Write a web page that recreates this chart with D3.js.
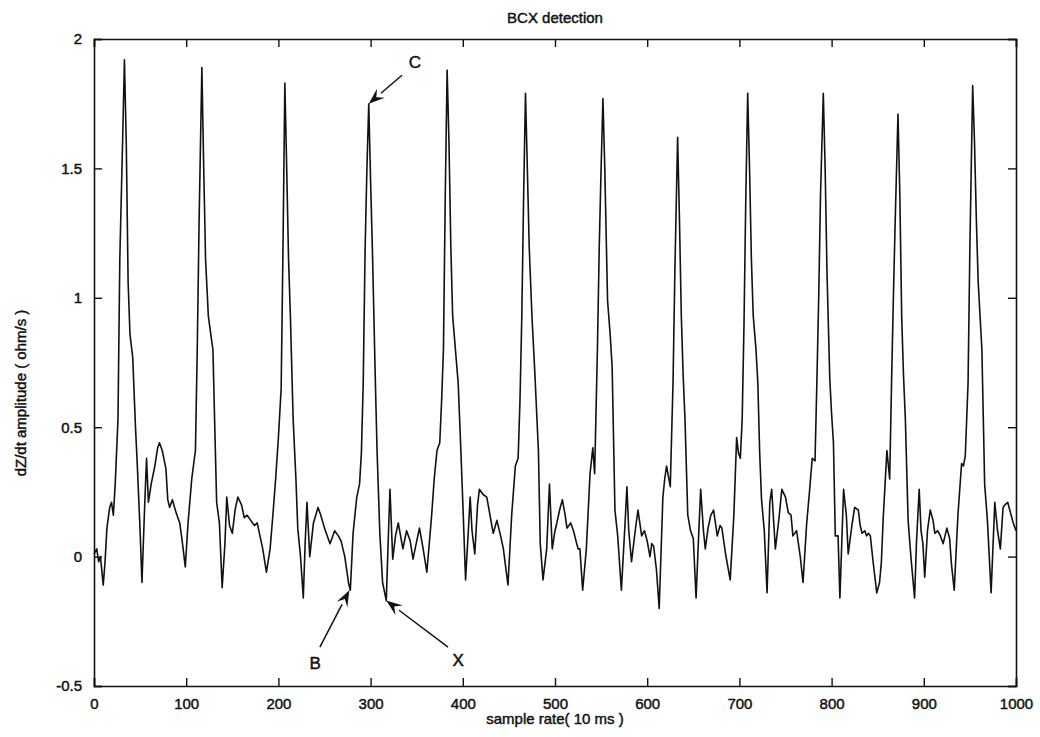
<!DOCTYPE html>
<html>
<head>
<meta charset="utf-8">
<script src="https://cdn.jsdelivr.net/npm/d3@7"></script>
<style>
  body { margin: 0; background: #fff; }
  svg { font-family: 'Liberation Sans', Arial, sans-serif; }
  text { fill: #111; stroke: #111; stroke-width: 0.45px; }
  .tick text { font-size: 15px; }
  .tick line, .domain { stroke: #111; }
</style>
</head>
<body>
<svg width="1040" height="737"></svg>
<script>
// samples (10 ms each) and dZ/dt amplitude
const samples = [0,3,5,7,10,12,14,17,19,21,23,26,28,31,33,35,37,39,42,45,47,50,52,55,57,59,62,66,69,71,74,78,80,82,85,89,93,96,99,
  102,106,110,112,114,117,119,121,124,127,129,131,133,136,139,142,144,147,150,153,156,160,163,166,170,174,177,180,183,187,191,194,197,
  200,203,205,207,209,211,213,216,219,221,224,227,229,231,234,238,243,246,250,253,256,261,265,268,272,276,278,281,285,288,290,292,294,296,298,
  300,302,305,307,310,313,317,319,321,324,327,330,335,339,343,346,350,353,357,361,366,369,372,375,377,379,381,383,385,387,389,392,395,398,
  400,403,406,408,410,413,416,418,422,426,430,433,437,441,444,449,453,457,460,462,464,466,468,470,472,475,478,482,484,487,491,494,497,
  500,502,505,508,511,513,517,520,525,527,530,534,538,541,543,546,548,550,552,554,557,560,562,565,568,572,576,578,580,583,587,590,594,597,
  600,603,605,607,610,613,617,619,621,625,628,630,633,635,637,639,641,644,647,650,653,656,658,661,663,666,669,672,676,679,681,685,690,694,697,699,
  701,703,705,707,709,711,713,715,718,720,722,724,727,730,733,735,739,743,746,750,753,756,758,762,766,769,773,776,779,782,784,786,788,791,793,795,798,
  800,802,804,807,809,811,813,816,818,822,825,829,831,833,836,838,840,842,845,849,852,854,856,858,860,863,865,867,869,872,874,876,878,880,883,886,890,892,895,897,899,
  901,904,907,910,912,915,918,921,925,928,930,933,937,941,943,945,948,950,953,955,957,959,963,966,969,973,977,980,983,986,988,991,994,997,1000];

const dzdt = [0.01,0.03,-0.02,0.0,-0.11,-0.02,0.11,0.19,0.21,0.16,0.28,0.53,1.15,1.6,1.92,1.6,1.06,0.86,0.77,0.5,0.35,0.1,-0.10,0.2,0.38,0.21,0.28,0.35,0.42,0.44,0.41,0.34,0.22,0.19,0.22,0.17,0.13,0.05,-0.04,
  0.13,0.3,0.41,0.8,1.3,1.89,1.5,1.15,0.93,0.85,0.80,0.5,0.21,0.13,-0.12,0.05,0.23,0.12,0.09,0.18,0.23,0.2,0.15,0.16,0.14,0.12,0.13,0.08,0.03,-0.06,0.03,0.16,0.3,
  0.46,0.65,1.2,1.83,1.5,1.15,0.93,0.53,0.3,0.11,0.0,-0.16,0.05,0.21,0.0,0.13,0.19,0.16,0.11,0.08,0.05,0.10,0.08,0.06,0.0,-0.10,-0.13,0.09,0.23,0.28,0.4,0.67,1.18,1.5,1.75,
  1.45,1.18,0.7,0.41,0.09,-0.1,-0.17,0.05,0.26,-0.01,0.08,0.13,0.03,0.1,0.06,-0.01,0.06,0.11,0.03,-0.06,0.15,0.3,0.41,0.44,0.6,0.80,1.4,1.88,1.6,1.2,0.93,0.8,0.67,0.4,
  0.21,-0.09,0.1,0.23,0.1,0.01,0.2,0.26,0.24,0.23,0.15,0.09,0.14,0.08,0.03,-0.11,0.16,0.35,0.38,0.6,0.93,1.4,1.79,1.5,1.2,0.93,0.72,0.41,0.05,-0.09,0.03,0.28,0.03,
  0.1,0.13,0.18,0.22,0.16,0.11,0.13,0.10,0.03,0.03,-0.13,0.03,0.32,0.42,0.32,0.80,1.2,1.5,1.77,1.5,0.99,0.85,0.73,0.18,0.08,-0.13,0.13,0.27,0.1,-0.02,0.1,0.18,0.08,0.1,
  0.06,0.0,0.05,0.04,-0.05,-0.2,0.23,0.3,0.35,0.27,0.67,1.1,1.62,1.3,0.93,0.7,0.53,0.16,0.1,0.07,-0.16,0.1,0.26,0.1,0.03,0.11,0.16,0.18,0.08,0.12,0.11,0.01,-0.09,0.16,0.46,0.4,
  0.38,0.53,0.9,1.4,1.79,1.5,1.15,0.93,0.8,0.67,0.4,0.22,0.1,-0.14,0.21,0.26,0.03,0.15,0.26,0.23,0.17,0.16,0.08,0.10,0.0,-0.10,0.13,0.25,0.38,0.37,0.67,1.0,1.4,1.79,1.5,1.1,0.69,
  0.55,0.44,0.08,0.08,-0.16,0.05,0.26,0.16,0.01,0.12,0.19,0.18,0.12,0.09,0.1,0.08,0.09,0.08,-0.02,-0.14,-0.1,-0.02,0.15,0.28,0.41,0.30,0.67,1.0,1.3,1.71,1.4,0.93,0.7,0.53,0.14,0.0,-0.16,0.05,0.26,0.1,0.05,
  -0.08,0.1,0.18,0.14,0.09,0.1,0.08,0.05,0.11,0.07,-0.03,-0.13,0.16,0.36,0.35,0.39,0.67,1.2,1.82,1.6,1.3,1.06,0.80,0.28,0.14,-0.14,0.21,0.1,0.03,0.19,0.2,0.21,0.17,0.13,0.10];

const xTicks = [0,100,200,300,400,500,600,700,800,900,1000];
const yTicks = [-0.5,0,0.5,1,1.5,2];

// annotated points: label, tip [sample, value], label [sample, value], tail [sample, value]
const marks = ['B','C','X'];
const markTip = [[277,-0.13],[298,1.75],[317,-0.17]];
const markLabel = [[240,-0.41],[348,1.91],[395,-0.40]];
const markTail = [[245,-0.35],[334,1.86],[384,-0.35]];

const svg = d3.select('svg');
const width = +svg.attr('width');
const height = +svg.attr('height');
const margin = {top: 39, right: 24, bottom: 51, left: 94};
const innerWidth = width - margin.left - margin.right;
const innerHeight = height - margin.top - margin.bottom;

const xScale = d3.scaleLinear().domain([0, 1000]).range([0, innerWidth]);
const yScale = d3.scaleLinear().domain([-0.5, 2]).range([innerHeight, 0]);

const g = svg.append('g')
  .attr('transform', `translate(${margin.left},${margin.top})`);

// box with inward ticks on all sides (matlab style)
const xAxisB = g.append('g').attr('transform', `translate(0,${innerHeight})`)
  .call(d3.axisBottom(xScale).tickValues(xTicks).tickSize(-8).tickPadding(12).tickFormat(d3.format('d')));
const xAxisT = g.append('g')
  .call(d3.axisTop(xScale).tickValues(xTicks).tickSize(-8));
const yAxisL = g.append('g')
  .call(d3.axisLeft(yScale).tickValues(yTicks).tickSize(-8).tickPadding(12).tickFormat(d => d));
const yAxisR = g.append('g').attr('transform', `translate(${innerWidth},0)`)
  .call(d3.axisRight(yScale).tickValues(yTicks).tickSize(-8));

// top and right edges carry ticks only
xAxisT.selectAll('.tick text').remove();
yAxisR.selectAll('.tick text').remove();

[xAxisB, xAxisT, yAxisL, yAxisR].forEach(a => {
  a.attr('font-size', 15);
  a.select('.domain').attr('stroke-width', 1.6);
  a.selectAll('.tick line').attr('stroke-width', 1.4);
});

const line = d3.line()
  .x((d, i) => xScale(samples[i]))
  .y(d => yScale(d));

g.append('path')
  .datum(dzdt)
  .attr('fill', 'none')
  .attr('stroke', '#111')
  .attr('stroke-width', 1.6)
  .attr('stroke-linejoin', 'round')
  .attr('d', line);

// arrows
marks.forEach((m, i) => {
  const tx = xScale(markTip[i][0]), ty = yScale(markTip[i][1]);
  const sx = xScale(markTail[i][0]), sy = yScale(markTail[i][1]);
  const ang = Math.atan2(ty - sy, tx - sx);
  const len = 16, wid = 6;
  const bx = tx - len * Math.cos(ang), by = ty - len * Math.sin(ang);
  g.append('line')
    .attr('x1', sx).attr('y1', sy).attr('x2', bx).attr('y2', by)
    .attr('stroke', '#111').attr('stroke-width', 1.5);
  g.append('path')
    .attr('d', `M${tx},${ty}L${bx - wid * Math.sin(ang)},${by + wid * Math.cos(ang)}L${tx - 10 * Math.cos(ang)},${ty - 10 * Math.sin(ang)}L${bx + wid * Math.sin(ang)},${by - wid * Math.cos(ang)}Z`)
    .attr('fill', '#111');
  g.append('text')
    .attr('x', xScale(markLabel[i][0]))
    .attr('y', yScale(markLabel[i][1]) + 6)
    .attr('text-anchor', 'middle')
    .attr('font-size', 17)
    .text(m);
});

svg.append('text')
  .attr('x', margin.left + innerWidth / 2)
  .attr('y', 23)
  .attr('text-anchor', 'middle')
  .attr('font-size', 15)
  .text('BCX detection');

svg.append('text')
  .attr('x', margin.left + innerWidth / 2)
  .attr('y', 724)
  .attr('text-anchor', 'middle')
  .attr('font-size', 15)
  .text('sample rate( 10 ms )');

svg.append('text')
  .attr('transform', `translate(26,393) rotate(-90)`)
  .attr('text-anchor', 'middle')
  .attr('font-size', 15)
  .text('dZ/dt amplitude ( ohm/s )');
</script>
</body>
</html>
